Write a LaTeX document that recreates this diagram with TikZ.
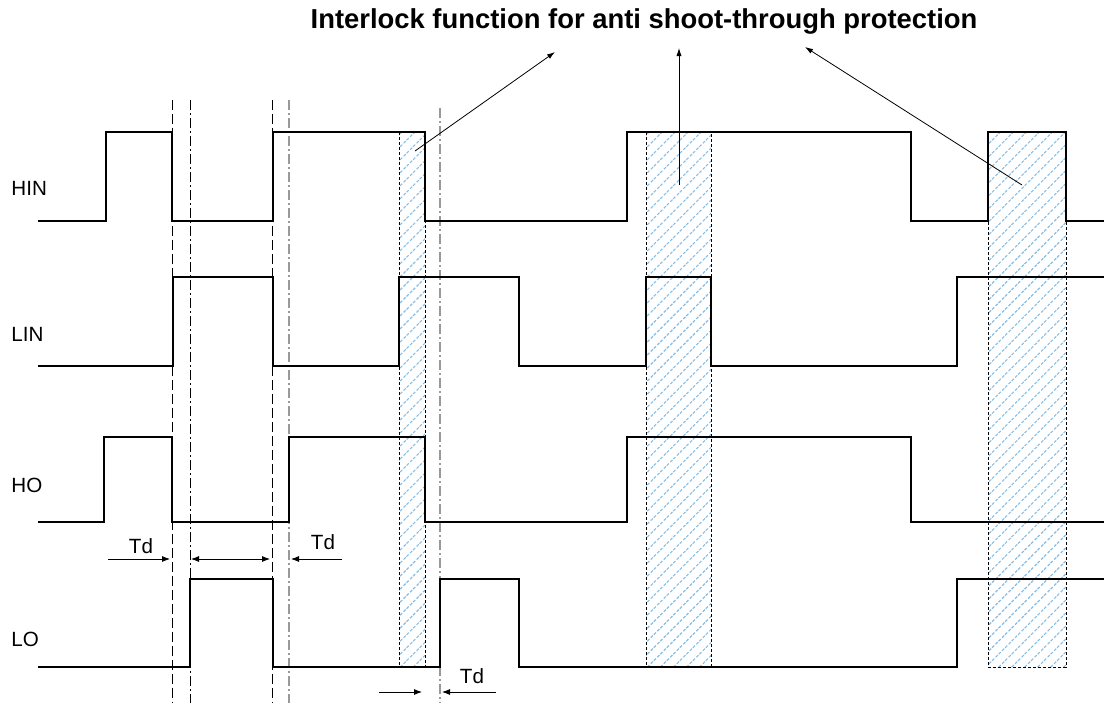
\documentclass[tikz,border=0pt]{standalone}
\usepackage{fontspec}
\setmainfont{Liberation Sans}
\usetikzlibrary{arrows.meta,patterns.meta}
\definecolor{hatchblue}{RGB}{135,190,230}
\tikzset{
  wave/.style={line width=1pt,black,line join=miter},
  guide/.style={line width=0.45pt,dash pattern=on 5pt off 2pt},
  guidedot/.style={line width=0.45pt,dash pattern=on 5pt off 1.5pt on 1pt off 1.5pt},
  guidegray/.style={line width=0.6pt,gray!80,dash pattern=on 5pt off 1.5pt on 1pt off 1.5pt},
  hatchbox/.style={pattern={Lines[angle=45,distance=4.6pt,line width=0.55pt]},pattern color=hatchblue,draw=black,line width=0.35pt,dash pattern=on 1.5pt off 1pt},
  ptr/.style={line width=0.4pt,-{Latex[length=4pt,width=2.6pt]}},
  dim/.style={line width=0.4pt,-{Latex[length=4pt,width=3pt]}},
  dimboth/.style={line width=0.4pt,{Latex[length=4pt,width=3pt]}-{Latex[length=4pt,width=3pt]}},
  sig/.style={anchor=base west,inner sep=0pt,font=\fontsize{10.3pt}{12pt}\selectfont},
  tdlab/.style={anchor=base,inner sep=0pt,font=\fontsize{10.3pt}{12pt}\selectfont},
  title/.style={anchor=base,inner sep=0pt,font=\fontsize{13.7pt}{16pt}\selectfont\bfseries}
}
\begin{document}
\begin{tikzpicture}[x=0.5pt,y=-0.5pt]
\useasboundingbox (0,0) rectangle (1104,703);
% hatched interlock windows
\path[hatchbox] (399,132) rectangle (425,667);
\path[hatchbox] (646,132) rectangle (711,667);
\path[hatchbox] (988,132) rectangle (1066,667);
% guide lines
\draw[guide] (172,100) -- (172,703);
\draw[guidedot] (190,100) -- (190,703);
\draw[guide] (272,100) -- (272,703);
\draw[guidegray] (289,100) -- (289,703);
\draw[guidegray] (440,108) -- (440,703);
% waveforms
\draw[wave] (38,221) -| (106,132) -| (172,221) -| (273,132) -| (425,221) -| (627,132) -| (911,221) -| (988,132) -| (1066,221) -- (1104,221);
\draw[wave] (38,366) -| (173,277) -| (273,366) -| (399,277) -| (519,366) -| (646,277) -| (711,366) -| (957,277) -- (1104,277);
\draw[wave] (38,522) -| (104,437) -| (172,522) -| (289,437) -| (425,522) -| (627,437) -| (911,522) -- (1104,522);
\draw[wave] (38,667) -| (190,579) -| (273,667) -| (440,579) -| (519,667) -| (957,579) -- (1104,579);
% signal labels
\node[sig] (hin) at (11,195) {HIN};
\node[sig] (lin) at (11,341) {LIN};
\node[sig] (ho) at (11,492) {HO};
\node[sig] (lo) at (11,646) {LO};
% title and pointers
\node[title] (ttl) at (644,28) {Interlock function for anti shoot-through protection};
\coordinate (p1s) at (415,151);
\coordinate (p1e) at (555,52);
\coordinate (p2s) at (679,185);
\coordinate (p2e) at (679,48);
\coordinate (p3s) at (1022,185);
\coordinate (p3e) at (805,47);
\draw[ptr] (p1s) -- (p1e);
\draw[ptr] (p2s) -- (p2e);
\draw[ptr] (p3s) -- (p3e);
% Td dimensions
\coordinate (d1a) at (108,559);
\coordinate (d1b) at (170,559);
\coordinate (d2a) at (191,559);
\coordinate (d2b) at (270,559);
\coordinate (d3a) at (342,559);
\coordinate (d3b) at (291,559);
\coordinate (d4a) at (379,692);
\coordinate (d4b) at (422,692);
\coordinate (d5a) at (496,692);
\coordinate (d5b) at (442,692);
\draw[dim] (d1a) -- (d1b);
\draw[dimboth] (d2a) -- (d2b);
\draw[dim] (d3a) -- (d3b);
\draw[dim] (d4a) -- (d4b);
\draw[dim] (d5a) -- (d5b);
\node[tdlab] (td1) at (141,553) {Td};
\node[tdlab] (td2) at (323,549) {Td};
\node[tdlab] (td3) at (472,683) {Td};
\end{tikzpicture}
\end{document}
